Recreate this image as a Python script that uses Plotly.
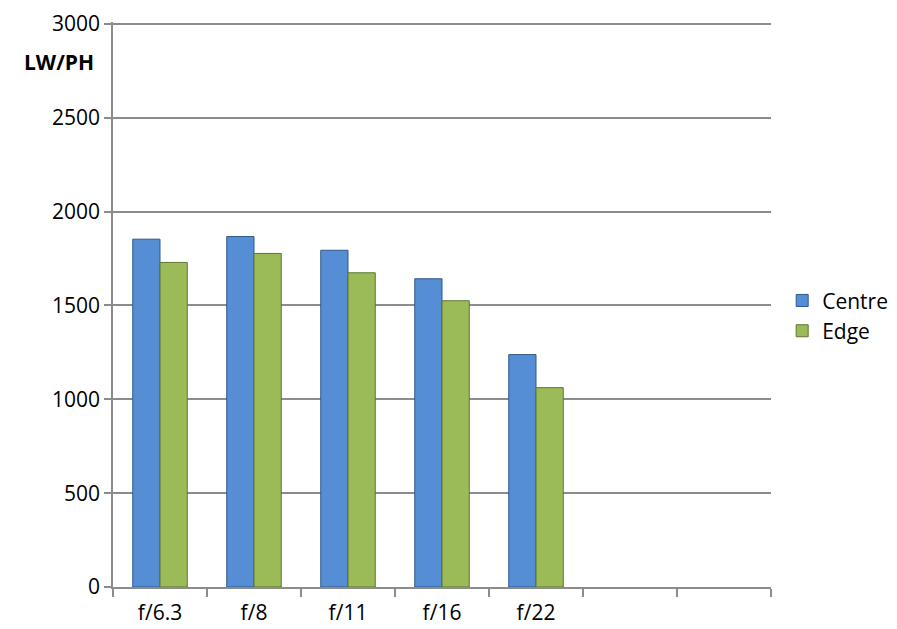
import plotly.graph_objects as go

# apertures, plus two empty slots on the right as in the original sheet
categories = ["f/6.3", "f/8", "f/11", "f/16", "f/22", " ", "  "]
apertures = ["f/6.3", "f/8", "f/11", "f/16", "f/22"]
centre = [1853, 1867, 1794, 1642, 1238]
edge = [1729, 1777, 1674, 1525, 1062]
y_ticks = [0, 500, 1000, 1500, 2000, 2500, 3000]

font_family = "Open Sans, DejaVu Sans, sans-serif"
grid_col = "#8c8c8c"

fig = go.Figure()
fig.add_trace(go.Bar(
    name="Centre", x=apertures, y=centre,
    marker=dict(color="#558ed5", line=dict(color="#30598c", width=1)),
))
fig.add_trace(go.Bar(
    name="Edge", x=apertures, y=edge,
    marker=dict(color="#9bbb59", line=dict(color="#5f7530", width=1)),
))

fig.update_layout(
    width=897, height=629,
    margin=dict(l=105, r=130, t=14, b=50),
    paper_bgcolor="white", plot_bgcolor="white",
    font=dict(family=font_family, size=21, color="#000000"),
    barmode="group", bargap=0.42, bargroupgap=0,
    showlegend=True,
    legend=dict(x=1.017, y=0.48, xanchor="left", yanchor="middle",
                font=dict(size=21), tracegroupgap=0, itemwidth=30),
)

fig.update_xaxes(
    type="category", categoryorder="array", categoryarray=categories,
    range=[-0.5, 6.5], automargin=False,
    tickson="boundaries", ticks="outside", ticklen=8, tickwidth=1.5,
    tickcolor=grid_col, ticklabelstandoff=6,
    showline=True, linecolor=grid_col, linewidth=1.5,
    showgrid=False, tickfont=dict(size=21),
)
# range a touch above 3000 so the top gridline is not clipped away
fig.update_yaxes(
    range=[0, 3010], tickvals=y_ticks, automargin=False,
    ticklabeloverflow="allow",
    ticks="outside", ticklen=7, tickwidth=1.5, tickcolor=grid_col,
    showline=True, linecolor=grid_col, linewidth=1.5,
    showgrid=True, gridcolor=grid_col, gridwidth=1.5,
    zeroline=False, tickfont=dict(size=21),
)

fig.add_annotation(
    text="<b>LW/PH</b>", xref="paper", yref="paper",
    x=-0.026, y=0.93, xanchor="right", yanchor="middle",
    showarrow=False, font=dict(size=21),
)

fig.write_html("out.html")
